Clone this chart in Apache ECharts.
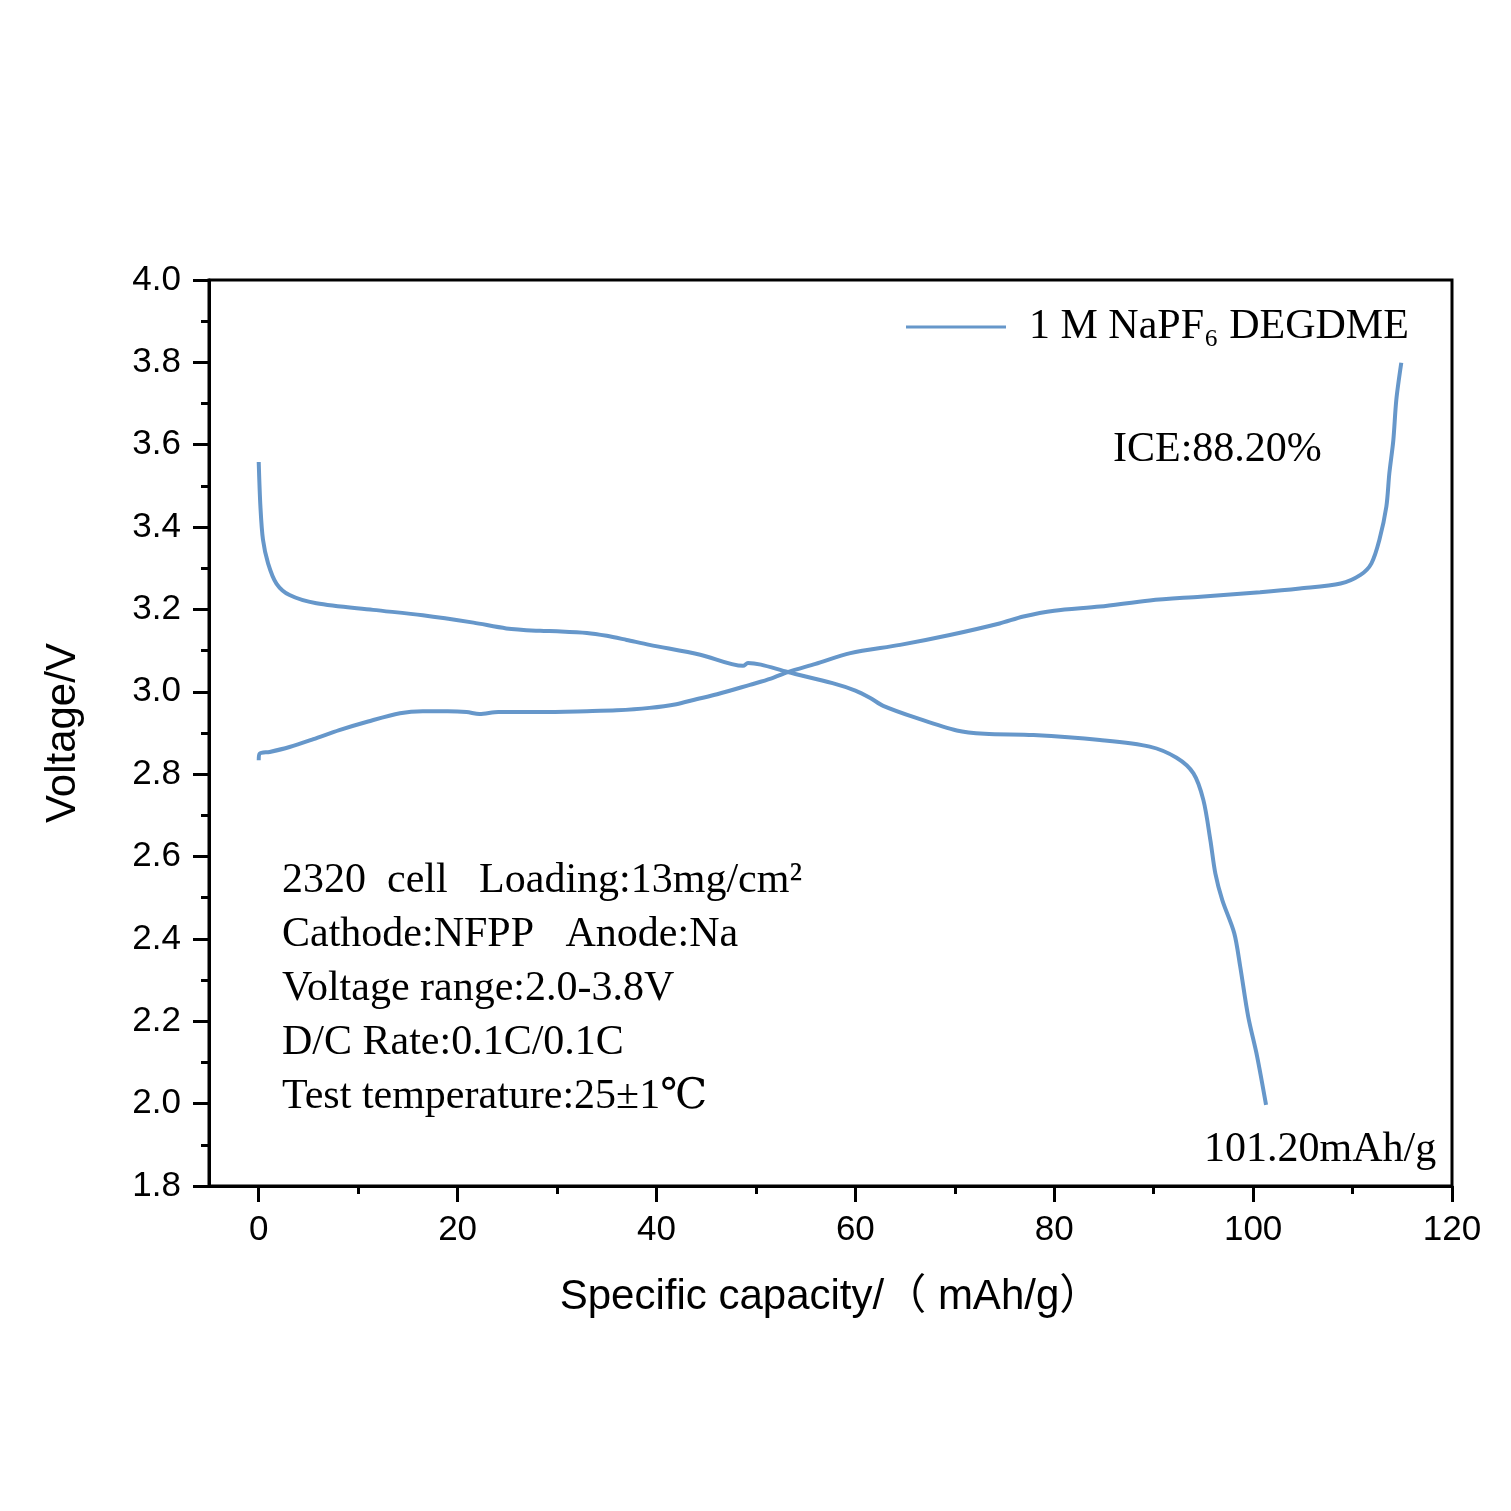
<!doctype html>
<html lang="en">
<head>
    <meta charset="UTF-8">
    <title>Charge/discharge profile</title>
    <script src="https://cdn.jsdelivr.net/npm/echarts@6.0.0/dist/echarts.min.js"></script>
    <style>
        html, body { margin: 0; padding: 0; background: #fff; }
        #main { width: 1511px; height: 1511px; }
    </style>
</head>
<body>
<div id="main"></div>
<script>
    // charge curve (capacity mAh/g, voltage V)
    var chargeCap = [0, 0.1, 1.1, 3.1, 5.5, 8.1, 11, 14.2, 16.5, 19, 20.9, 22.2, 24.1, 28.3, 33, 36, 39.3, 42, 44, 46.1,
        49.4, 51.5, 53.2, 56, 59.5, 64.5, 69.5, 74.5, 76.9, 80, 84.6, 89.6, 94.7, 100.7, 104.7, 108.8, 110.8, 111.9,
        112.7, 113.4, 113.7, 114.1, 114.4, 114.9];
    var chargeV = [2.834, 2.85, 2.854, 2.866, 2.885, 2.907, 2.928, 2.948, 2.953, 2.953, 2.951, 2.946, 2.951, 2.951, 2.953,
        2.955, 2.961, 2.97, 2.982, 2.994, 3.017, 3.032, 3.048, 3.068, 3.094, 3.114, 3.138, 3.166, 3.183, 3.197, 3.207,
        3.222, 3.231, 3.242, 3.251, 3.263, 3.284, 3.312, 3.369, 3.45, 3.531, 3.611, 3.709, 3.799];

    // discharge curve
    var dischCap = [0, 0.17, 0.43, 0.94, 1.78, 3.1, 5.8, 11.5, 16.5, 21.6, 24.9, 28.3, 30, 33, 35, 37, 39.3, 44.4, 48.7,
        49.2, 50.5, 53.2, 57.7, 60, 61.5, 62.8, 66.2, 70.2, 73, 77.9, 84.6, 89.6, 92.3, 94.0, 95.0, 95.7, 96.2, 96.9,
        98.1, 98.7, 99.5, 100.4, 101.3];
    var dischV = [3.558, 3.45, 3.369, 3.312, 3.263, 3.235, 3.215, 3.199, 3.186, 3.168, 3.154, 3.148, 3.147, 3.143, 3.136,
        3.126, 3.114, 3.09, 3.063, 3.07, 3.066, 3.048, 3.021, 3.003, 2.985, 2.966, 2.936, 2.906, 2.898, 2.895, 2.883,
        2.867, 2.84, 2.802, 2.737, 2.64, 2.559, 2.494, 2.414, 2.333, 2.212, 2.115, 1.997];

    var xTicks = [0, 20, 40, 60, 80, 100, 120];
    var xMinorTicks = [10, 30, 50, 70, 90, 110];

    var seriesName = '1 M NaPF\u2086 DEGDME';
    var infoLines = [
        '2320  cell   Loading:13mg/cm\u00b2',
        'Cathode:NFPP   Anode:Na',
        'Voltage range:2.0-3.8V',
        'D/C Rate:0.1C/0.1C',
        'Test temperature:25\u00b11\u2103'
    ];
    var iceText = 'ICE:88.20%';
    var capText = '101.20mAh/g';

    function zip(a, b) {
        var out = [];
        for (var i = 0; i < a.length; i++) out.push([a[i], b[i]]);
        return out;
    }

    var lineColor = '#6697ca';
    var sans = '"Liberation Sans", Arial, "Noto Sans CJK SC", sans-serif';
    var serif = '"Liberation Serif", "DejaVu Serif", serif';

    var myChart = echarts.init(document.getElementById('main'));

    var graphics = [];
    for (var i = 0; i < infoLines.length; i++) {
        graphics.push({
            type: 'text', left: 282, top: 882 + i * 54 - 22,
            style: {text: infoLines[i], font: '42px ' + serif, fill: '#000'}
        });
    }
    graphics.push({type: 'text', left: 1113, top: 451 - 22, style: {text: iceText, font: '42px ' + serif, fill: '#000'}});
    graphics.push({type: 'text', left: 1204, top: 1151 - 22, style: {text: capText, font: '42px ' + serif, fill: '#000'}});

    var option = {
        backgroundColor: '#fff',
        animation: false,
        grid: {
            left: 209, right: 59, top: 280, bottom: 325,
            show: true, borderColor: '#000', borderWidth: 3,
            outerBoundsMode: 'none', containLabel: false
        },
        legend: {
            data: [seriesName],
            left: 901, top: 301,
            icon: 'rect', itemWidth: 100, itemHeight: 3,
            textStyle: {fontFamily: serif, fontSize: 42, color: '#000', padding: [0, 0, 0, 18]}
        },
        xAxis: [{
            type: 'value', min: -5, max: 120, position: 'bottom',
            name: 'Specific capacity/\uff08 mAh/g\uff09', nameLocation: 'middle', nameGap: 90,
            nameTextStyle: {fontFamily: sans, fontSize: 42, color: '#000'},
            axisLine: {show: true, onZero: false, lineStyle: {color: '#000', width: 3}},
            axisTick: {show: true, inside: false, length: 16, lineStyle: {color: '#000', width: 3}, customValues: xTicks},
            axisLabel: {fontFamily: sans, fontSize: 35, color: '#000', margin: 27, customValues: xTicks},
            splitLine: {show: false}
        }, {
            type: 'value', min: -5, max: 120, position: 'bottom',
            axisLine: {show: false, onZero: false},
            axisTick: {show: true, inside: false, length: 8, lineStyle: {color: '#000', width: 3}, customValues: xMinorTicks},
            axisLabel: {show: false},
            splitLine: {show: false}
        }],
        yAxis: {
            type: 'value', min: 1.8, max: 4.0, interval: 0.2,
            name: 'Voltage/V', nameLocation: 'middle', nameGap: 125,
            nameTextStyle: {fontFamily: sans, fontSize: 42, color: '#000'},
            axisLine: {show: true, onZero: false, lineStyle: {color: '#000', width: 3}},
            axisTick: {show: true, inside: false, length: 16, lineStyle: {color: '#000', width: 3}},
            minorTick: {show: true, splitNumber: 2, length: 8, lineStyle: {color: '#000', width: 3}},
            axisLabel: {
                fontFamily: sans, fontSize: 35, color: '#000', margin: 28,
                formatter: function (v) { return v.toFixed(1); }
            },
            splitLine: {show: false}
        },
        series: [{
            name: seriesName, type: 'line', xAxisIndex: 0,
            showSymbol: false, smooth: 0.3,
            lineStyle: {color: lineColor, width: 4}, itemStyle: {color: lineColor},
            data: zip(chargeCap, chargeV)
        }, {
            name: seriesName, type: 'line', xAxisIndex: 0,
            showSymbol: false, smooth: 0.3,
            lineStyle: {color: lineColor, width: 4}, itemStyle: {color: lineColor},
            data: zip(dischCap, dischV)
        }],
        graphic: graphics
    };

    myChart.setOption(option);
</script>
</body>
</html>
